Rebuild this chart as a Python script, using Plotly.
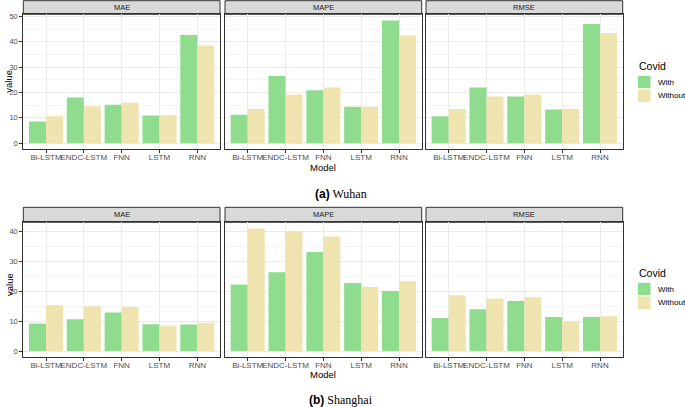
import plotly.graph_objects as go

W, H = 685, 407

models = ["Bi-LSTM", "ENDC-LSTM", "FNN", "LSTM", "RNN"]
metrics = ["MAE", "MAPE", "RMSE"]

# Wuhan
wuhan_mae_with = [8.5, 18.0, 15.1, 10.9, 42.7]
wuhan_mae_without = [10.6, 14.6, 15.9, 11.0, 38.5]
wuhan_mape_with = [11.2, 26.5, 20.9, 14.4, 48.4]
wuhan_mape_without = [13.5, 19.2, 22.0, 14.4, 42.5]
wuhan_rmse_with = [10.6, 22.0, 18.4, 13.3, 47.0]
wuhan_rmse_without = [13.5, 18.4, 19.2, 13.6, 43.4]

# Shanghai
shanghai_mae_with = [9.2, 10.7, 12.9, 9.0, 8.9]
shanghai_mae_without = [15.4, 15.0, 14.8, 8.6, 9.5]
shanghai_mape_with = [22.3, 26.4, 33.2, 22.8, 20.1]
shanghai_mape_without = [41.1, 40.2, 38.4, 21.5, 23.4]
shanghai_rmse_with = [11.1, 14.0, 16.8, 11.4, 11.4]
shanghai_rmse_without = [18.7, 17.6, 18.0, 9.9, 11.7]

groups = ["With", "Without"]

rows = [
    dict(name="(a)", city="Wuhan",
         with_=[wuhan_mae_with, wuhan_mape_with, wuhan_rmse_with],
         without=[wuhan_mae_without, wuhan_mape_without, wuhan_rmse_without],
         strip=(0.7, 14.3), plot=(14.3, 149.3), yrange=[-2.42, 50.82], ytitle=81.7,
         xtitle=167.8, caption=193.5, legend_y=65.7),
    dict(name="(b)", city="Shanghai",
         with_=[shanghai_mae_with, shanghai_mape_with, shanghai_rmse_with],
         without=[shanghai_mae_without, shanghai_mape_without, shanghai_rmse_without],
         strip=(207.3, 222.3), plot=(222.3, 357.2), yrange=[-2.06, 43.16], ytitle=285,
         xtitle=374.8, caption=400.0, legend_y=272.7),
]

cols_px = [(23.3, 220.0), (225.0, 421.7), (426.0, 622.7)]

GREEN = "#90DC8F"
BEIGE = "#EFE3B0"


def px_x(x):
    return x / W


def px_y(y):
    return 1 - y / H


fig = go.Figure()
shapes = []
annotations = []
layout = {}

n = 0
for r, row in enumerate(rows):
    for c, metric in enumerate(metrics):
        n += 1
        xa = "x" if n == 1 else "x%d" % n
        ya = "y" if n == 1 else "y%d" % n
        fig.add_trace(go.Bar(x=models, y=row["with_"][c], name="With",
                             marker=dict(color=GREEN, line=dict(width=0)),
                             xaxis=xa, yaxis=ya, showlegend=False))
        fig.add_trace(go.Bar(x=models, y=row["without"][c], name="Without",
                             marker=dict(color=BEIGE, line=dict(width=0)),
                             xaxis=xa, yaxis=ya, showlegend=False))

        x0, x1 = cols_px[c]
        layout["xaxis" if n == 1 else "xaxis%d" % n] = dict(
            domain=[px_x(x0), px_x(x1)], anchor=ya, type="category",
            range=[-0.6, 4.6], showline=True, mirror=True, linecolor="#333333",
            linewidth=1, ticks="outside", ticklen=3, tickcolor="#333333",
            ticklabelstandoff=-3,
            tickfont=dict(size=8, color="#4D4D4D", family="Liberation Sans"),
            tickangle=0, showgrid=True, gridcolor="#EBEBEB", gridwidth=1,
            zeroline=False, fixedrange=True, automargin=False)
        layout["yaxis" if n == 1 else "yaxis%d" % n] = dict(
            domain=[px_y(row["plot"][1]), px_y(row["plot"][0])], anchor=xa,
            range=row["yrange"], dtick=10, showline=True, mirror=True,
            linecolor="#333333", linewidth=1,
            ticks="outside" if c == 0 else "", ticklen=3, tickcolor="#333333",
            showticklabels=(c == 0),
            tickfont=dict(size=7.5, color="#4D4D4D", family="Liberation Sans"),
            showgrid=True, gridcolor="#EBEBEB", gridwidth=1, zeroline=False,
            minor=dict(dtick=5, showgrid=True, gridcolor="#F5F5F5", gridwidth=0.6),
            fixedrange=True, automargin=False)

        # facet strip
        shapes.append(dict(type="rect", xref="paper", yref="paper",
                           x0=px_x(x0), x1=px_x(x1),
                           y0=px_y(row["strip"][1]), y1=px_y(row["strip"][0]),
                           fillcolor="#D9D9D9", line=dict(color="#333333", width=1),
                           layer="below"))
        annotations.append(dict(text=metric, xref="paper", yref="paper",
                                x=px_x((x0 + x1) / 2),
                                y=px_y((row["strip"][0] + row["strip"][1]) / 2),
                                showarrow=False, xanchor="center", yanchor="middle",
                                font=dict(size=7.5, color="#1A1A1A", family="Liberation Sans")))

    annotations.append(dict(text="value", xref="paper", yref="paper",
                            x=px_x(9), y=px_y(row["ytitle"]), textangle=-90,
                            showarrow=False, xanchor="center", yanchor="middle",
                            font=dict(size=9.5, color="black", family="Liberation Sans")))
    annotations.append(dict(text="Model", xref="paper", yref="paper",
                            x=px_x(323), y=px_y(row["xtitle"]),
                            showarrow=False, xanchor="center", yanchor="middle",
                            font=dict(size=9.5, color="black", family="Liberation Sans")))
    annotations.append(dict(text="<b><span style='font-family:Liberation Sans'>%s</span></b> %s"
                            % (row["name"], row["city"]),
                            xref="paper", yref="paper",
                            x=px_x(341), y=px_y(row["caption"]),
                            showarrow=False, xanchor="center", yanchor="middle",
                            font=dict(size=12, color="black", family="Liberation Serif")))

    # legend (drawn by hand, ggplot style)
    ly = row["legend_y"]
    annotations.append(dict(text="Covid", xref="paper", yref="paper",
                            x=px_x(636.5), y=px_y(ly), showarrow=False,
                            xanchor="left", yanchor="middle",
                            font=dict(size=10.5, color="black", family="Liberation Sans")))
    for k, (g, col) in enumerate(zip(groups, [GREEN, BEIGE])):
        top = ly + 9.6 + k * 13.6
        shapes.append(dict(type="rect", xref="paper", yref="paper",
                           x0=px_x(637.3), x1=px_x(651.0),
                           y0=px_y(top + 13.6), y1=px_y(top),
                           fillcolor=col, line=dict(color="white", width=1)))
        annotations.append(dict(text=g, xref="paper", yref="paper",
                                x=px_x(655.5), y=px_y(top + 6.8), showarrow=False,
                                xanchor="left", yanchor="middle",
                                font=dict(size=8, color="black", family="Liberation Sans")))

fig.update_layout(
    width=W, height=H, margin=dict(l=0, r=0, t=0, b=0, autoexpand=False),
    paper_bgcolor="white", plot_bgcolor="white", showlegend=False,
    barmode="group", bargap=0.1, bargroupgap=0,
    shapes=shapes, annotations=annotations,
    font=dict(family="Liberation Sans"),
    **layout)

# page body has a default 8px margin; drop it so the figure sits at the window corner
fig.write_html("out.html", config={"displayModeBar": False},
               post_script="document.body.style.margin = '0';")
